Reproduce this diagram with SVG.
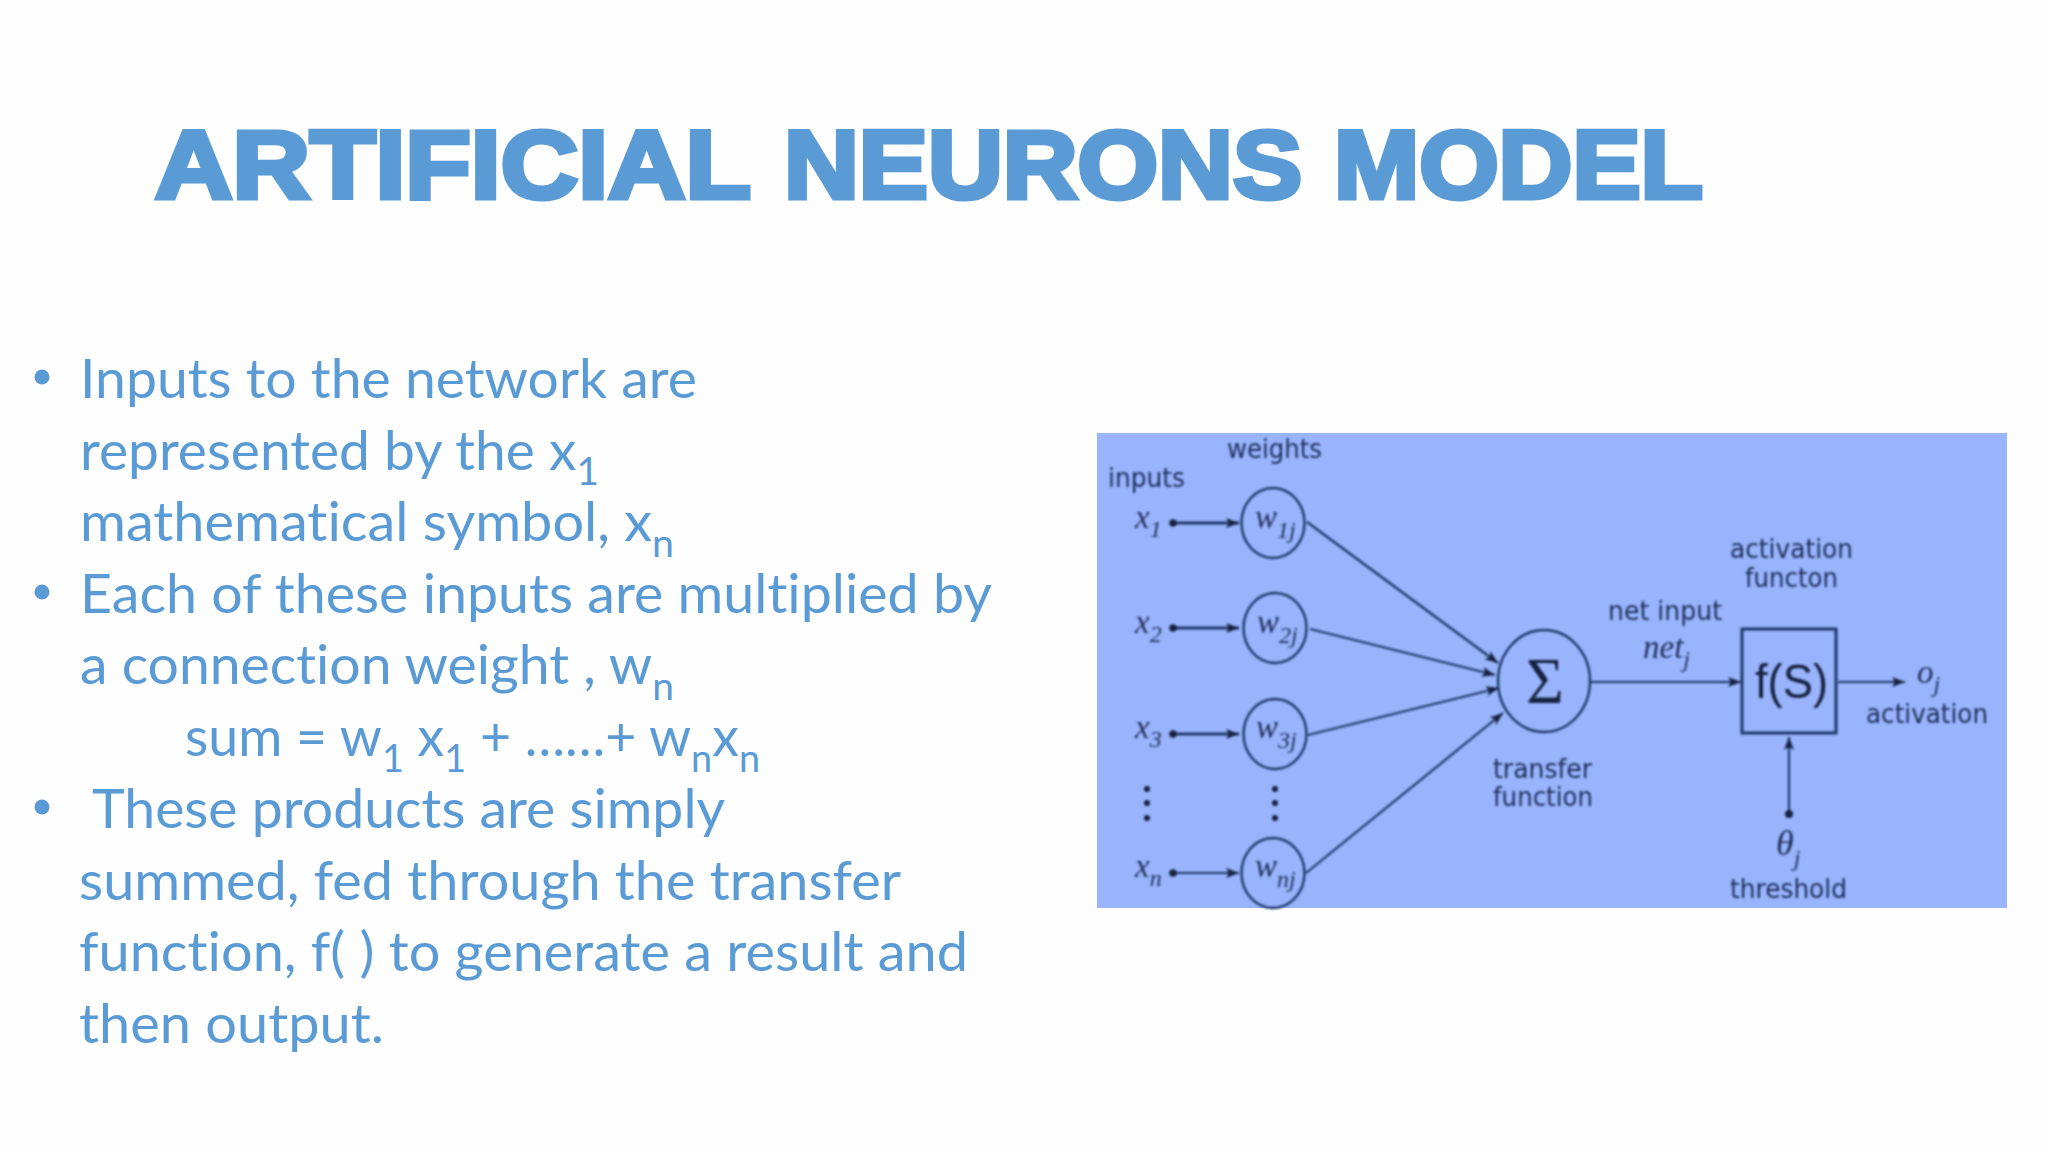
<svg xmlns="http://www.w3.org/2000/svg" width="2048" height="1152" viewBox="0 0 2048 1152">
<style>
.title{font-family:"Liberation Sans",Arial,sans-serif;font-weight:700;font-size:96px;fill:#5b9bd5;stroke:#5b9bd5;stroke-width:5px;stroke-linejoin:miter}
.b{font-family:Lato,"Noto Sans",sans-serif;font-size:54px;fill:#5b9bd5;font-variant-ligatures:none}
.s{font-size:38px}
.l{font-family:"DejaVu Sans",sans-serif;font-size:26px;fill:#1f2f5c}
.i{font-family:"Liberation Serif",serif;font-style:italic;font-size:33px;fill:#24335f}
.j{font-size:24px}
.n{fill:none;stroke:#1f3768;stroke-width:2.4px}
.c{fill:none;stroke:#1f3768;stroke-width:2.2px}
.t{fill:none;stroke:#1f3768;stroke-width:3px}
.d{fill:#14213f}
.bu{fill:#5b9bd5}
</style>
<defs>
<marker id="ah" markerUnits="userSpaceOnUse" markerWidth="14" markerHeight="10" refX="13" refY="5" orient="auto"><path d="M0 0L13 5L0 10L3 5Z" fill="#14213f"/></marker>
<filter id="soft" x="-2%" y="-2%" width="104%" height="104%"><feGaussianBlur stdDeviation="0.8"/></filter>
</defs>
<rect width="2048" height="1152" fill="#fefefe"/>
<g id="heading">
<text class="title" x="155" y="197.5" textLength="596" lengthAdjust="spacingAndGlyphs">ARTIFICIAL</text>
<text class="title" x="784" y="197.5" textLength="518" lengthAdjust="spacingAndGlyphs">NEURONS</text>
<text class="title" x="1334" y="197.5" textLength="369" lengthAdjust="spacingAndGlyphs">MODEL</text>
</g>
<g id="body">
<circle class="bu" cx="42" cy="377" r="7.5"/>
<circle class="bu" cx="42" cy="592" r="7.5"/>
<circle class="bu" cx="42" cy="807" r="7.5"/>
<text class="b" x="80" y="398" textLength="617" lengthAdjust="spacingAndGlyphs">Inputs to the network are</text>
<text class="b" x="80" y="470" textLength="519" lengthAdjust="spacingAndGlyphs">represented by the x<tspan class="s" dy="15">1</tspan></text>
<text class="b" x="80" y="541" textLength="594" lengthAdjust="spacingAndGlyphs">mathematical symbol, x<tspan class="s" dy="16">n</tspan></text>
<text class="b" x="80" y="613" textLength="912" lengthAdjust="spacingAndGlyphs">Each of these inputs are multiplied by</text>
<text class="b" x="80" y="684" textLength="594" lengthAdjust="spacingAndGlyphs">a connection weight , w<tspan class="s" dy="16">n</tspan></text>
<text class="b" x="185" y="756" textLength="575" lengthAdjust="spacingAndGlyphs">sum = w<tspan class="s" dy="16">1</tspan><tspan dy="-16"> x</tspan><tspan class="s" dy="16">1</tspan><tspan dy="-16"> + ……+ w</tspan><tspan class="s" dy="16">n</tspan><tspan dy="-16">x</tspan><tspan class="s" dy="16">n</tspan></text>
<text class="b" x="92" y="828" textLength="633" lengthAdjust="spacingAndGlyphs">These products are simply</text>
<text class="b" x="79" y="900" textLength="822" lengthAdjust="spacingAndGlyphs">summed, fed through the transfer</text>
<text class="b" x="79" y="971" textLength="889" lengthAdjust="spacingAndGlyphs">function, f( ) to generate a result and</text>
<text class="b" x="79" y="1043" textLength="305" lengthAdjust="spacingAndGlyphs">then output.</text>
</g>
<rect x="1097" y="433" width="910" height="475" fill="#99b4fc"/>
<g filter="url(#soft)">
<g id="connectors">
<path class="t" marker-end="url(#ah)" d="M1173 523H1239"/>
<path class="t" marker-end="url(#ah)" d="M1173 628H1239"/>
<path class="t" marker-end="url(#ah)" d="M1173 734H1239"/>
<path class="c" marker-end="url(#ah)" d="M1173 873H1239"/>
<path class="c" marker-end="url(#ah)" d="M1307 522L1498 663"/>
<path class="c" marker-end="url(#ah)" d="M1310 629L1495 675"/>
<path class="c" marker-end="url(#ah)" d="M1308 735L1499 688"/>
<path class="c" marker-end="url(#ah)" d="M1306 873L1503 713"/>
<path class="c" marker-end="url(#ah)" d="M1590 682H1741"/>
<path class="c" marker-end="url(#ah)" d="M1838 682H1905"/>
<path class="c" marker-end="url(#ah)" d="M1789 814V737"/>
<circle class="d" cx="1173" cy="523" r="3.8"/>
<circle class="d" cx="1173" cy="628" r="3.8"/>
<circle class="d" cx="1173" cy="734" r="3.8"/>
<circle class="d" cx="1173" cy="873" r="3.8"/>
<circle class="d" cx="1789" cy="814" r="4"/>
</g>
<g id="label-weights"><text class="l" x="1227" y="458" textLength="95" lengthAdjust="spacingAndGlyphs">weights</text></g>
<g id="label-inputs"><text class="l" x="1108" y="487" textLength="77" lengthAdjust="spacingAndGlyphs">inputs</text></g>
<g id="input-x1"><text class="i" x="1135" y="528">x<tspan class="j" dy="9">1</tspan></text></g>
<g id="input-x2"><text class="i" x="1135" y="633">x<tspan class="j" dy="9">2</tspan></text></g>
<g id="input-x3"><text class="i" x="1135" y="738">x<tspan class="j" dy="9">3</tspan></text></g>
<g id="input-xn"><text class="i" x="1135" y="877">x<tspan class="j" dy="9">n</tspan></text></g>
<g id="dots-x"><circle class="d" cx="1147" cy="789" r="3"/><circle class="d" cx="1147" cy="803" r="3"/><circle class="d" cx="1147" cy="818" r="3"/></g>
<g id="dots-w"><circle class="d" cx="1275" cy="789" r="3"/><circle class="d" cx="1275" cy="803" r="3"/><circle class="d" cx="1275" cy="818" r="3"/></g>
<g id="w1"><ellipse class="n" cx="1273" cy="523" rx="31.5" ry="35"/><text class="i" x="1255" y="528">w<tspan class="j" dy="10">1j</tspan></text></g>
<g id="w2"><ellipse class="n" cx="1275" cy="628" rx="31.5" ry="35"/><text class="i" x="1257" y="633">w<tspan class="j" dy="10">2j</tspan></text></g>
<g id="w3"><ellipse class="n" cx="1275" cy="734" rx="31.5" ry="35"/><text class="i" x="1256" y="738">w<tspan class="j" dy="10">3j</tspan></text></g>
<g id="wn"><ellipse class="n" cx="1273" cy="873" rx="31.5" ry="35"/><text class="i" x="1255" y="877">w<tspan class="j" dy="10">nj</tspan></text></g>
<g id="sum"><ellipse class="n" cx="1544" cy="681" rx="46" ry="51"/><text x="1545" y="703" text-anchor="middle" font-family="Liberation Serif, serif" font-size="65" fill="#14213f">Σ</text></g>
<g id="label-transfer"><text class="l" x="1493" y="778" textLength="99" lengthAdjust="spacingAndGlyphs">transfer</text><text class="l" x="1493" y="806" textLength="100" lengthAdjust="spacingAndGlyphs">function</text></g>
<g id="label-net"><text class="l" x="1608" y="620" textLength="114" lengthAdjust="spacingAndGlyphs">net input</text><text class="i" x="1643" y="658">net<tspan class="j" dy="9">j</tspan></text></g>
<g id="label-activation-function"><text class="l" x="1730" y="558" textLength="123" lengthAdjust="spacingAndGlyphs">activation</text><text class="l" x="1745" y="587" textLength="93" lengthAdjust="spacingAndGlyphs">functon</text></g>
<g id="activation-box"><rect x="1742" y="629" width="94" height="104" fill="none" stroke="#1f3768" stroke-width="3"/><text x="1755" y="698" font-family="Liberation Sans, sans-serif" font-size="48" fill="#14213f" textLength="73" lengthAdjust="spacingAndGlyphs">f(S)</text></g>
<g id="output"><text class="i" x="1917" y="683">o<tspan class="j" dy="9">j</tspan></text><text class="l" x="1866" y="723" textLength="122" lengthAdjust="spacingAndGlyphs">activation</text></g>
<g id="threshold"><text class="i" x="1776" y="855" style="font-size:36px">θ<tspan class="j" dy="11">j</tspan></text><text class="l" x="1730" y="898" textLength="117" lengthAdjust="spacingAndGlyphs">threshold</text></g>
</g>
</svg>
